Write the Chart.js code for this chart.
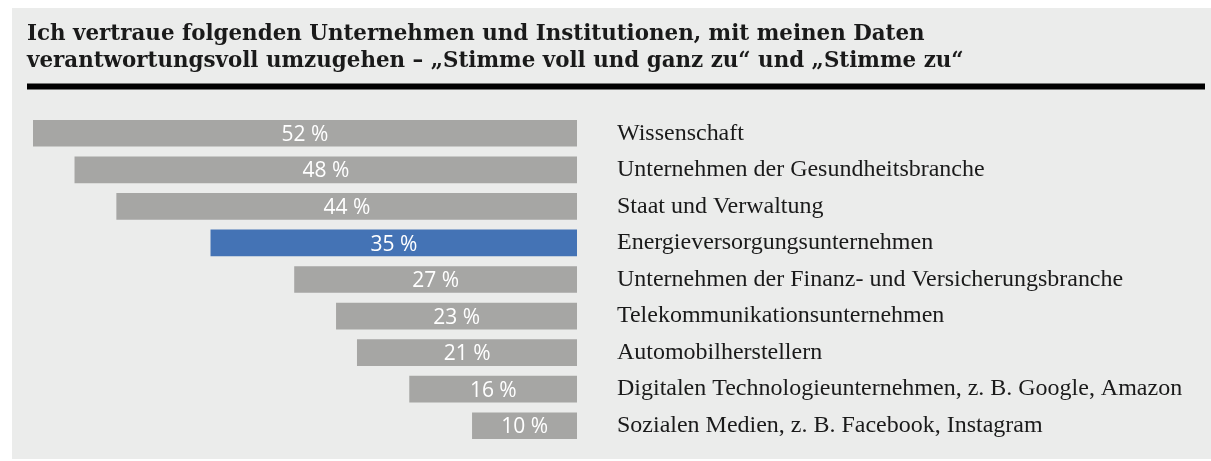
<!DOCTYPE html>
<html>
<head>
<meta charset="utf-8">
<script src="https://cdn.jsdelivr.net/npm/chart.js@4.4.1/dist/chart.umd.min.js"></script>
<style>
html,body{margin:0;padding:0;background:#ffffff;overflow:hidden}
#wrap{width:1211px;height:461px;position:relative}
</style>
</head>
<body>
<div id="wrap"><canvas id="c" width="1211" height="461"></canvas></div>
<script>
// ---- data ----
const titleLines = [
  'Ich vertraue folgenden Unternehmen und Institutionen, mit meinen Daten',
  'verantwortungsvoll umzugehen – „Stimme voll und ganz zu“ und „Stimme zu“'
];
const categories = [
  'Wissenschaft',
  'Unternehmen der Gesundheitsbranche',
  'Staat und Verwaltung',
  'Energieversorgungsunternehmen',
  'Unternehmen der Finanz- und Versicherungsbranche',
  'Telekommunikationsunternehmen',
  'Automobilherstellern',
  'Digitalen Technologieunternehmen, z. B. Google, Amazon',
  'Sozialen Medien, z. B. Facebook, Instagram'
];
const values = [52, 48, 44, 35, 27, 23, 21, 16, 10];
const highlightedCategories = ['Energieversorgungsunternehmen'];
const valueSuffix = ' %';

// ---- styles ----
const W = 1211, H = 461;
const BG_PANEL = '#ebeceb';
const BAR_GREY = '#a6a6a4';
const BAR_BLUE = '#4473b5';
const TEXT = '#1a1a1a';

// font sizing by measurement
const mctx = document.createElement('canvas').getContext('2d');
function fitSize(family, weight, text, target) {
  mctx.font = weight + ' 100px ' + family;
  return 100 * target / mctx.measureText(text).width;
}
const titleFamily = '"DejaVu Serif"';
const titleSize = fitSize(titleFamily, 'bold', titleLines[1], 937);
const catFamily = '"Liberation Serif"';
const catSize = (fitSize(catFamily, 'normal', categories[1], 372) +
                 fitSize(catFamily, 'normal', categories[7], 559)) / 2;
const valFamily = '"Open Sans"';
const valSize = 21;

const backgroundPlugin = {
  id: 'bgPanel',
  beforeDraw(chart) {
    const ctx = chart.ctx;
    ctx.save();
    ctx.fillStyle = '#ffffff';
    ctx.fillRect(0, 0, W, H);
    ctx.fillStyle = BG_PANEL;
    ctx.fillRect(12, 8, W - 12, 451);
    ctx.fillStyle = '#000000';
    ctx.fillRect(27, 83.5, 1205 - 27, 6);
    ctx.fillStyle = TEXT;
    ctx.font = 'bold ' + titleSize.toFixed(2) + 'px ' + titleFamily;
    ctx.textAlign = 'left';
    ctx.textBaseline = 'alphabetic';
    ctx.fillText(titleLines[0], 27, 39.5);
    ctx.fillText(titleLines[1], 27, 66.5);
    ctx.restore();
  }
};

const valueLabelPlugin = {
  id: 'valueLabels',
  afterDatasetsDraw(chart) {
    const ctx = chart.ctx;
    const meta = chart.getDatasetMeta(0);
    ctx.save();
    ctx.fillStyle = '#ffffff';
    ctx.font = valSize + 'px ' + valFamily;
    ctx.textAlign = 'center';
    ctx.textBaseline = 'alphabetic';
    meta.data.forEach((bar, i) => {
      const cx = (bar.x + bar.base) / 2;
      ctx.fillText(values[i] + valueSuffix, cx, bar.y + valSize * 0.36);
    });
    ctx.restore();
  }
};

new Chart(document.getElementById('c'), {
  type: 'bar',
  data: {
    labels: categories,
    datasets: [{
      data: values,
      backgroundColor: categories.map(c => highlightedCategories.includes(c) ? BAR_BLUE : BAR_GREY),
      borderWidth: 0,
      barThickness: 26
    }]
  },
  options: {
    indexAxis: 'y',
    responsive: false,
    animation: false,
    devicePixelRatio: 1,
    layout: { padding: { left: 33, top: 115, bottom: 17, right: 0 } },
    plugins: {
      legend: { display: false },
      tooltip: { enabled: false },
      title: { display: false }
    },
    scales: {
      x: {
        display: false,
        reverse: true,
        min: 0,
        max: Math.max(...values)
      },
      y: {
        position: 'right',
        grid: { display: false, drawTicks: false },
        border: { display: false },
        ticks: {
          padding: 40,
          color: TEXT,
          font: { family: catFamily, size: catSize }
        },
        afterFit(scale) {
          scale.width = W - 577;
          scale.paddingTop = 0;
          scale.paddingBottom = 0;
        }
      }
    }
  },
  plugins: [backgroundPlugin, valueLabelPlugin]
});
</script>
</body>
</html>
